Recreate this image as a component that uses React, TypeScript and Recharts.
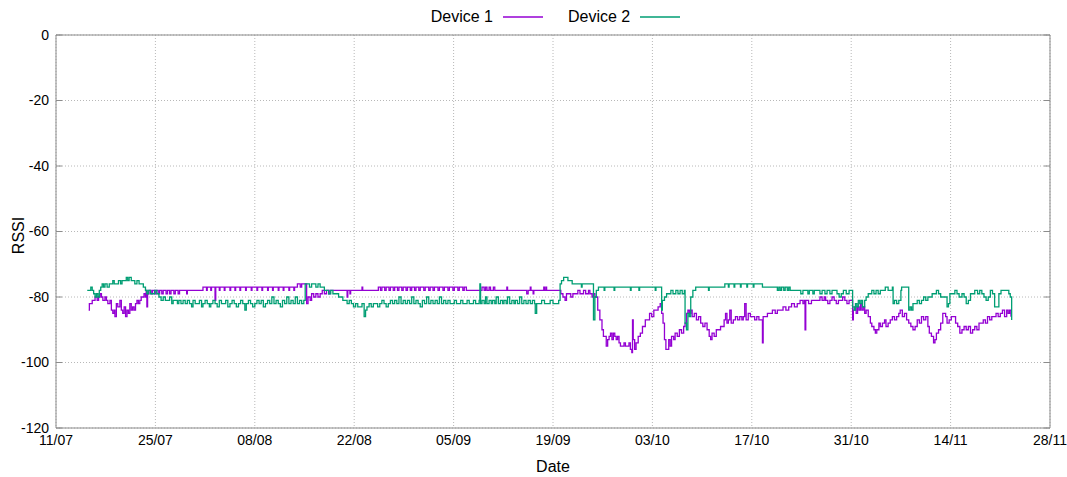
import React from 'react';
import { LineChart, Line, XAxis, YAxis, CartesianGrid, Legend, Label } from 'recharts';

// Day offsets counted from 11/07
const dateLabels = ['11/07', '25/07', '08/08', '22/08', '05/09', '19/09', '03/10', '17/10', '31/10', '14/11', '28/11'];
const xMajorTicks = [0, 14, 28, 42, 56, 70, 84, 98, 112, 126, 140];
const xMinorTicks = [7, 21, 35, 49, 63, 77, 91, 105, 119, 133];
const yTicks = [-120, -100, -80, -60, -40, -20, 0];

// [day, RSSI]
const device1Readings: [number, number][] = [
  [4.6,-84],[4.7,-82],[5.0,-82],[5.1,-81],[5.3,-81],[5.5,-80],[5.8,-81],[6.0,-80],[6.2,-79],[6.4,-80],[6.6,-81],[6.9,-80],[7.1,-81],[7.3,-82],[7.6,-81],[7.8,-84],[8.0,-85],[8.2,-84],[8.3,-86],[8.5,-82],[8.7,-83],[9.0,-81],[9.2,-84],[9.4,-85],[9.6,-83],[9.8,-86],[10.0,-84],[10.2,-85],[10.4,-82],[10.6,-84],[10.8,-83],[11.0,-84],[11.2,-82],[11.4,-81],[11.6,-82],[11.8,-81],[12.0,-80],[12.2,-80],[12.4,-79],[12.6,-80],[12.7,-78],[12.8,-83],[12.9,-79],[13.1,-78],
  [13.4,-79],[13.6,-78],[13.9,-79],[14.1,-78],[14.4,-79],[14.6,-78],[14.9,-79],[15.1,-78],[15.5,-79],[15.7,-78],[16.0,-79],[16.2,-78],[16.6,-79],[16.8,-78],[17.2,-79],[17.4,-78],[18.3,-78],[18.4,-79],[18.5,-78],[20.6,-78],[20.7,-77],
  [21.2,-78],[21.3,-77],[21.8,-78],[21.9,-77],[22.3,-77],[22.4,-81],[22.5,-77],[23.0,-78],[23.1,-77],[23.7,-78],[23.8,-77],[24.5,-78],[24.6,-77],[25.2,-78],[25.3,-77],[25.9,-78],[26.0,-77],[26.7,-78],[26.8,-77],[27.5,-78],[27.6,-77],[28.3,-78],[28.4,-77],[29.0,-78],[29.1,-77],[29.8,-78],[29.9,-77],[30.5,-78],[30.6,-77],[31.3,-78],[31.4,-77],[32.0,-78],[32.1,-77],[32.8,-78],[32.9,-77],[33.5,-78],[33.6,-77],[34.0,-76],[34.4,-77],[34.6,-76],[35.1,-76],[35.3,-82],[35.5,-80],[35.8,-81],[36.0,-79],[36.3,-80],[36.6,-79],[36.9,-80],[37.2,-79],[37.5,-78],[37.8,-79],[38.1,-78],[38.4,-79],[38.6,-78],
  [40.9,-78],[41.0,-80],[41.1,-78],[41.4,-79],[41.5,-78],[43.0,-78],[43.1,-77],[43.2,-78],[45.3,-78],
  [45.4,-77],[45.7,-78],[45.9,-77],[46.3,-78],[46.5,-77],[46.9,-78],[47.1,-77],[47.5,-78],[47.7,-77],[48.1,-78],[48.3,-77],[48.7,-78],[48.9,-77],[49.3,-78],[49.5,-77],[49.9,-78],[50.1,-77],[50.5,-78],[50.7,-77],[51.1,-78],[51.3,-77],[51.8,-78],[52.0,-77],[52.5,-78],[52.7,-77],[53.1,-78],[53.3,-77],[53.8,-78],[54.0,-77],[54.5,-78],[54.7,-77],[55.2,-78],[55.4,-77],[55.9,-78],[56.1,-77],[56.6,-78],[56.8,-77],[57.3,-78],[57.5,-77],[57.8,-78],
  [59.9,-78],[60.0,-77],[60.3,-78],[60.5,-77],[60.7,-78],[61.0,-77],[61.2,-78],[61.6,-77],[61.8,-78],[63.4,-78],[63.5,-77],[63.6,-78],[66.2,-78],[66.3,-79],[66.5,-78],[66.8,-77],[66.9,-78],[67.2,-79],[67.3,-78],[68.6,-78],[68.7,-77],[68.8,-78],[69.0,-77],[69.1,-78],[70.9,-78],
  [71.1,-79],[71.4,-80],[71.7,-81],[71.9,-79],[72.3,-79],[72.5,-80],[72.8,-79],[73.4,-79],[73.5,-78],[73.8,-79],[74.2,-79],[74.3,-78],[74.6,-79],[75.0,-78],[75.2,-79],[75.5,-80],[75.7,-79],[75.9,-80],
  [76.3,-84],[76.6,-87],[76.9,-90],[77.1,-92],[77.5,-95],[77.7,-93],[77.9,-92],[78.1,-91],[78.3,-93],[78.5,-91],[78.7,-92],[78.9,-93],[79.1,-92],[79.3,-94],[79.5,-95],[79.8,-95],[80.0,-94],[80.2,-95],[80.5,-95],[80.7,-94],[80.9,-96],[81.1,-97],[81.2,-87],[81.3,-93],[81.5,-96],
  [81.7,-94],[82.0,-92],[82.3,-91],[82.6,-89],[83.0,-87],[83.3,-87],[83.6,-85],[83.9,-86],[84.2,-84],[84.5,-84],[84.8,-83],[85.1,-82],[85.3,-85],[85.5,-88],[85.7,-93],[85.9,-96],[86.1,-96],[86.3,-93],[86.5,-95],[86.7,-92],[87.0,-93],[87.2,-91],[87.5,-92],[87.8,-90],[88.1,-91],[88.4,-89],[88.6,-88],[88.8,-85],[89.0,-84],[89.2,-85],[89.4,-84],[89.6,-86],[89.9,-85],[90.2,-87],[90.5,-86],[90.8,-88],[91.1,-89],[91.4,-88],[91.7,-90],[92.0,-92],[92.2,-93],[92.4,-91],[92.7,-92],[93.0,-90],[93.3,-90],[93.6,-89],[93.9,-89],[94.1,-87],[94.3,-85],[94.5,-88],[94.7,-87],[94.9,-84],[95.1,-88],[95.4,-87],[95.7,-86],[96.0,-87],[96.3,-86],[96.6,-87],[96.8,-86],[97.0,-82],[97.2,-87],[97.5,-85],[97.8,-86],[98.1,-86],[98.4,-87],[98.7,-86],[99.0,-87],[99.4,-87],[99.5,-94],[99.6,-86],[99.9,-86],[100.2,-85],[100.6,-85],[100.9,-84],[101.3,-85],[101.6,-84],[102.0,-84],[102.4,-83],[102.8,-84],[103.2,-83],[103.6,-82],[104.0,-83],[104.4,-82],[104.8,-81],[105.2,-82],[105.4,-81],[105.5,-90],[105.6,-81],[106.0,-82],[106.4,-81],[106.8,-81],[107.2,-81],[107.6,-80],
  [107.9,-81],[108.2,-80],[108.4,-81],[108.7,-82],[109.0,-81],[109.3,-80],[109.6,-81],[109.9,-82],[110.2,-81],[110.5,-81],[110.8,-80],[111.1,-81],[111.4,-82],[111.7,-81],[112.0,-81],[112.2,-87],[112.3,-84],[112.5,-83],[112.7,-85],[112.9,-83],[113.1,-84],[113.3,-82],[113.5,-84],[113.7,-83],[113.9,-85],[114.1,-84],[114.4,-86],[114.7,-88],[114.9,-89],[115.2,-90],[115.4,-91],[115.6,-90],[115.9,-88],[116.1,-89],[116.4,-88],[116.7,-87],[116.9,-89],[117.2,-88],[117.5,-87],[117.8,-86],[118.1,-87],[118.4,-86],[118.7,-85],[118.9,-84],[119.2,-86],[119.5,-85],[119.8,-87],[120.1,-88],[120.4,-89],[120.7,-90],[121.0,-89],[121.3,-87],[121.6,-88],[121.9,-86],[122.2,-87],[122.5,-86],[122.8,-89],[123.0,-91],[123.3,-92],[123.6,-94],[123.8,-93],[124.0,-91],[124.3,-90],[124.6,-88],[124.9,-85],[125.1,-85],[125.3,-86],[125.5,-88],[125.8,-87],[126.1,-86],[126.4,-86],[126.7,-88],[127.0,-89],[127.3,-91],[127.6,-90],[127.9,-89],[128.2,-90],[128.5,-89],[128.8,-91],[129.1,-90],[129.4,-89],[129.7,-90],[130.0,-88],[130.3,-88],[130.6,-87],[130.9,-88],[131.2,-86],[131.5,-87],[131.8,-86],[132.1,-86],[132.4,-85],[132.7,-86],[133.0,-85],[133.3,-84],[133.6,-86],[133.9,-84],[134.1,-85],[134.3,-84],[134.5,-86]
];

const device2Readings: [number, number][] = [
  [4.4,-78],[4.7,-78],[4.9,-77],[5.1,-78],[5.3,-79],[5.5,-80],[5.7,-79],[5.9,-80],[6.1,-78],[6.3,-77],[6.5,-76],[6.7,-77],[6.9,-76],[7.2,-77],[7.5,-76],[7.8,-76],[8.0,-75],[8.2,-76],[8.5,-76],[8.8,-75],[9.1,-76],[9.3,-75],[9.6,-75],[9.9,-74],[10.1,-75],[10.3,-74],[10.6,-75],[10.9,-75],[11.1,-76],[11.4,-75],[11.7,-76],[12.0,-76],[12.3,-77],[12.6,-78],[12.8,-79],[13.0,-78],[13.3,-79],[13.6,-79],[13.9,-78],[14.2,-79],[14.5,-80],[14.8,-81],[15.1,-80],[15.4,-81],[15.7,-81],[16.0,-80],[16.3,-82],[16.5,-81],[16.8,-81],[17.1,-82],[17.3,-81],[17.6,-82],[17.9,-81],[18.2,-82],[18.5,-81],[18.8,-82],[19.1,-83],[19.3,-81],[19.6,-82],[19.9,-82],[20.2,-81],[20.5,-83],[20.7,-82],[21.0,-81],[21.3,-82],[21.6,-83],[21.8,-82],[22.1,-81],[22.4,-82],[22.7,-83],[23.0,-81],[23.3,-82],[23.6,-82],[23.9,-81],[24.2,-83],[24.5,-82],[24.8,-81],[25.1,-82],[25.4,-83],[25.7,-82],[26.0,-81],[26.3,-82],[26.6,-84],[26.8,-82],[27.1,-81],[27.4,-82],[27.7,-83],[28.0,-82],[28.3,-81],[28.6,-82],[28.9,-81],[29.2,-83],[29.5,-82],[29.8,-81],[30.1,-82],[30.4,-80],[30.7,-82],[31.0,-81],[31.3,-82],[31.6,-83],[31.9,-81],[32.2,-82],[32.5,-80],[32.8,-82],[33.1,-81],[33.4,-82],[33.7,-80],[34.0,-82],[34.3,-81],[34.6,-82],[34.9,-81],
  [35.1,-76],[35.4,-76],[35.7,-77],[36.0,-76],[36.3,-76],[36.6,-77],[36.9,-76],[37.2,-77],[37.5,-77],[37.8,-78],[38.1,-78],[38.4,-79],[38.7,-78],[39.0,-79],[39.4,-79],[39.8,-80],[40.1,-80],[40.4,-81],[40.7,-81],[41.0,-82],[41.3,-81],[41.6,-82],[41.9,-83],[42.2,-82],[42.5,-83],[42.8,-83],[43.1,-82],[43.4,-86],[43.6,-84],[43.8,-83],[44.1,-82],[44.4,-83],[44.7,-82],[45.0,-82],[45.3,-83],[45.6,-82],[45.9,-81],[46.2,-82],[46.5,-83],[46.8,-82],[47.1,-81],[47.4,-82],[47.7,-81],[48.0,-82],[48.3,-80],[48.6,-82],[48.9,-81],[49.2,-82],[49.5,-81],[49.8,-82],[50.1,-80],[50.4,-82],[50.7,-81],[51.0,-82],[51.3,-83],[51.6,-81],[51.9,-82],[52.2,-80],[52.5,-82],[52.8,-81],[53.1,-82],[53.4,-81],[53.7,-82],[54.0,-80],[54.3,-82],[54.6,-81],[54.9,-82],[55.2,-81],[55.5,-82],[55.8,-82],[56.1,-81],[56.4,-82],[56.7,-82],[57.0,-81],[57.3,-82],[57.6,-82],[57.9,-81],[58.2,-82],[58.5,-82],[58.8,-81],[59.1,-82],[59.4,-82],[59.6,-81],[59.7,-76],[59.8,-82],
  [60.0,-81],[60.3,-82],[60.5,-80],[60.7,-82],[61.0,-81],[61.3,-82],[61.5,-81],[61.8,-82],[62.0,-80],[62.3,-82],[62.6,-81],[62.9,-82],[63.1,-81],[63.4,-82],[63.6,-80],[63.9,-82],[64.2,-81],[64.5,-82],[64.7,-81],[65.0,-82],[65.3,-80],[65.6,-82],[65.9,-81],[66.2,-82],[66.5,-81],[66.8,-82],[67.1,-81],[67.4,-82],[67.5,-85],[67.7,-82],[68.0,-82],[68.4,-81],[68.8,-82],[69.2,-82],[69.6,-81],[70.0,-82],[70.4,-82],[70.8,-81],
  [71.0,-76],[71.2,-75],[71.5,-74],[71.8,-74],[72.1,-75],[72.4,-75],[72.7,-76],[73.0,-76],[73.5,-76],[74.0,-77],[74.1,-76],[74.6,-76],[75.0,-76],[75.3,-76],[75.5,-76],[75.7,-87],[75.9,-80],[76.1,-78],[76.4,-77],[77.0,-77],[77.2,-78],[77.3,-77],[78.5,-77],[78.6,-78],[78.7,-77],[80.8,-77],[80.9,-78],[81.0,-77],[82.0,-77],[82.1,-78],[82.2,-77],
  [84.3,-77],[84.4,-78],[84.5,-77],[85.2,-77],[85.3,-84],[85.4,-81],[85.7,-80],[86.0,-79],[86.4,-79],[86.6,-78],[86.9,-79],[87.3,-78],[87.6,-79],[87.9,-78],[88.2,-79],[88.5,-78],[88.6,-88],[88.8,-90],[89.0,-85],[89.2,-86],[89.4,-80],[89.7,-78],[90.1,-77],[90.5,-77],
  [91.8,-77],[91.9,-78],[92.0,-77],[94.1,-77],[94.2,-76],[94.6,-76],[94.7,-77],[94.8,-76],[95.4,-76],[95.5,-77],[95.6,-76],[96.3,-76],[96.4,-77],[96.5,-76],[97.2,-76],[97.3,-77],[97.4,-76],[98.1,-76],[98.2,-77],[98.3,-76],[99.4,-76],[99.5,-77],[101.5,-77],[101.6,-78],[101.8,-77],[102.0,-78],[102.2,-77],[102.5,-78],[102.7,-77],[103.0,-78],[103.2,-77],[103.4,-78],[104.8,-78],[104.9,-79],[105.2,-78],[105.8,-78],[105.9,-79],[106.1,-78],[106.6,-79],[106.8,-78],[107.4,-78],[107.6,-79],
  [107.9,-78],[108.3,-79],[108.6,-78],[109.0,-79],[109.3,-78],[109.7,-78],[110.0,-79],[110.3,-80],[110.6,-79],[110.9,-78],[111.3,-79],[111.7,-78],[112.1,-78],[112.2,-83],[112.4,-84],[112.6,-82],[112.8,-83],[113.0,-81],[113.2,-82],[113.4,-81],[113.6,-83],[113.9,-81],[114.1,-80],[114.4,-79],[114.7,-79],[114.9,-78],[115.2,-79],[115.5,-78],[115.8,-79],[116.1,-78],[116.4,-78],[116.8,-77],[117.2,-78],[117.5,-78],[117.8,-77],[117.9,-82],[118.1,-81],[118.4,-82],[118.7,-81],[119.0,-78],[119.1,-77],[119.8,-77],[120.0,-77],[120.1,-84],[120.3,-83],[120.5,-84],[120.7,-82],[121.0,-82],[121.3,-81],[121.6,-82],[121.9,-81],[122.2,-80],[122.5,-81],[122.8,-80],[123.1,-80],[123.4,-79],[123.7,-79],[124.0,-78],[124.3,-79],[124.6,-80],[124.9,-80],[125.2,-80],[125.5,-83],[125.7,-82],[125.9,-79],[126.2,-79],[126.6,-78],[126.9,-79],[127.2,-80],[127.6,-79],[127.9,-80],[128.2,-82],[128.5,-81],[128.8,-79],[129.1,-79],[129.4,-78],[129.8,-79],[130.1,-78],[130.4,-79],[130.7,-80],[131.0,-81],[131.3,-80],[131.6,-78],[131.9,-79],[132.2,-83],[132.5,-83],[132.8,-79],[133.1,-78],[133.5,-78],[133.9,-78],[134.2,-79],[134.4,-80],[134.6,-87]
];

const seriesNames = ['Device 1', 'Device 2'];
const seriesColors = ['#9400d3', '#009e73'];
const seriesReadings = [device1Readings, device2Readings];

const series = seriesNames.map((name, i) => ({
  name,
  color: seriesColors[i],
  data: seriesReadings[i].map(([day, rssi]) => ({ day, rssi })),
}));

const BORDER = '#8c8c8c';
const FONT = '"Liberation Sans", Arial, sans-serif';

const NoTick = () => <g />;

const renderLegend = () => (
  <div style={{ display: 'flex', justifyContent: 'center', alignItems: 'center', fontSize: 16, lineHeight: '18px', color: '#000', fontFamily: FONT, paddingLeft: 44 }}>
    {series.map((s, i) => (
      <div key={s.name} style={{ display: 'flex', alignItems: 'center', marginRight: i === 0 ? 25 : 0 }}>
        <span>{s.name}</span>
        <svg width={50} height={4} style={{ display: 'block' }}>
          <line x1={10} y1={2} x2={50} y2={2} stroke={s.color} strokeWidth={1.5} />
        </svg>
      </div>
    ))}
  </div>
);

const YLabel = (props: any) => {
  const vb = props.viewBox || {};
  const cx = 18;
  const cy = (vb.y || 0) + (vb.height || 0) / 2 + 4;
  return (
    <text x={cx} y={cy} transform={`rotate(-90 ${cx} ${cy})`} textAnchor="middle" dominantBaseline="central" fontSize={16} fill="#000" fontFamily={FONT}>
      RSSI
    </text>
  );
};

export default function App() {
  return (
    <div style={{ position: 'absolute', left: 0, top: 0, fontFamily: FONT, background: '#fff' }}>
      <LineChart width={1067} height={477} margin={{ top: 35, right: 17, bottom: 0, left: 0 }}>
        <CartesianGrid xAxisId="x" yAxisId="y" stroke="#b8b8b8" strokeDasharray="1 2" />
        <XAxis
          xAxisId="x"
          dataKey="day"
          type="number"
          domain={[0, 140]}
          ticks={xMajorTicks}
          tickFormatter={(v: number) => dateLabels[xMajorTicks.indexOf(v)]}
          tickLine={false}
          tickSize={5}
          tickMargin={2}
          axisLine={{ stroke: BORDER }}
          tick={{ fill: '#000', fontSize: 14 }}
          height={49}
          allowDataOverflow
        >
          <Label value="Date" position="insideBottom" offset={5} fontSize={16} fill="#000" />
        </XAxis>
        <XAxis xAxisId="xbMajor" type="number" domain={[0, 140]} ticks={xMajorTicks} orientation="bottom" mirror height={1} axisLine={false} tick={NoTick} tickSize={6} tickLine={{ stroke: BORDER }} allowDataOverflow />
        <XAxis xAxisId="xbMinor" type="number" domain={[0, 140]} ticks={xMinorTicks} orientation="bottom" mirror height={1} axisLine={false} tick={NoTick} tickSize={3} tickLine={{ stroke: BORDER }} allowDataOverflow />
        <XAxis xAxisId="xtMajor" type="number" domain={[0, 140]} ticks={xMajorTicks} orientation="top" mirror height={1} axisLine={{ stroke: BORDER }} tick={NoTick} tickSize={6} tickLine={{ stroke: BORDER }} allowDataOverflow />
        <XAxis xAxisId="xtMinor" type="number" domain={[0, 140]} ticks={xMinorTicks} orientation="top" mirror height={1} axisLine={false} tick={NoTick} tickSize={3} tickLine={{ stroke: BORDER }} allowDataOverflow />
        <YAxis
          yAxisId="y"
          type="number"
          domain={[-120, 0]}
          ticks={yTicks}
          tickLine={false}
          tickSize={5}
          tickMargin={2}
          axisLine={{ stroke: BORDER }}
          tick={{ fill: '#000', fontSize: 14 }}
          width={56}
          allowDataOverflow
        >
          <Label content={YLabel} />
        </YAxis>
        <YAxis yAxisId="ylTicks" type="number" domain={[-120, 0]} ticks={yTicks} orientation="left" mirror width={1} axisLine={false} tick={NoTick} tickSize={6} tickLine={{ stroke: BORDER }} allowDataOverflow />
        <YAxis yAxisId="yrTicks" type="number" domain={[-120, 0]} ticks={yTicks} orientation="right" mirror width={1} axisLine={{ stroke: BORDER }} tick={NoTick} tickSize={6} tickLine={{ stroke: BORDER }} allowDataOverflow />
        <Legend verticalAlign="middle" align="center" layout="horizontal" content={renderLegend} wrapperStyle={{ top: 8, left: 0, width: 1067 }} />
        {series.map((s) => (
          <Line
            key={s.name}
            xAxisId="x"
            yAxisId="y"
            data={s.data}
            dataKey="rssi"
            name={s.name}
            type="stepAfter"
            stroke={s.color}
            strokeWidth={1.3}
            dot={false}
            activeDot={false}
            isAnimationActive={false}
          />
        ))}
      </LineChart>
    </div>
  );
}
